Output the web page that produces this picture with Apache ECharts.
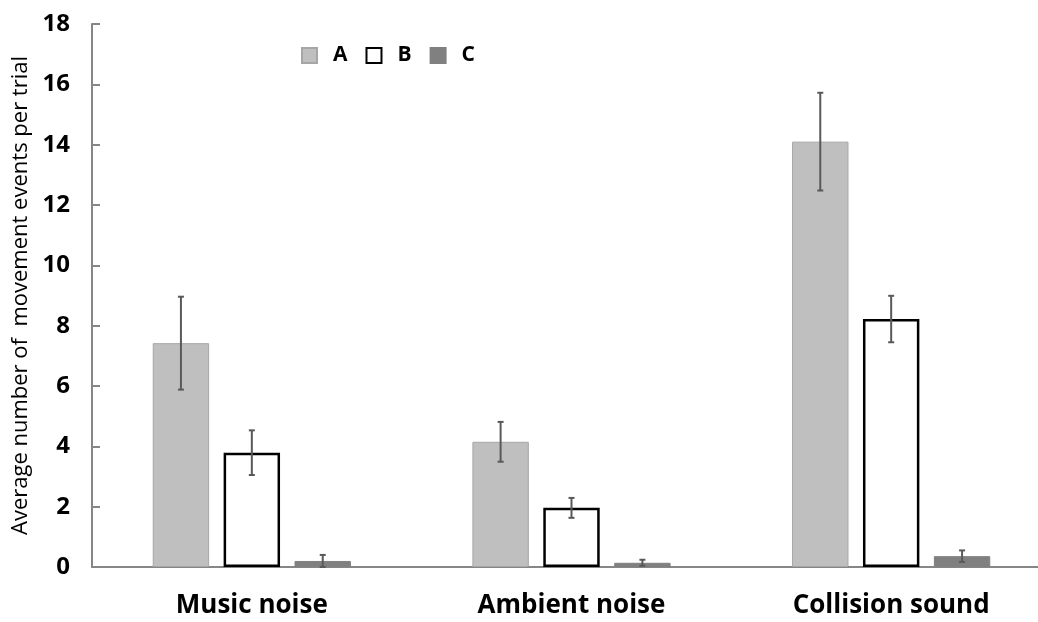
<!DOCTYPE html>
<html><head><meta charset="utf-8">
<script src="https://cdn.jsdelivr.net/npm/echarts@6/dist/echarts.min.js"></script>
<style>html,body{margin:0;padding:0;background:#fff}#c{width:1038px;height:622px}</style>
</head><body><div id="c"></div>
<script>
var categories = ['Music noise', 'Ambient noise', 'Collision sound'];
var seriesNames = ['A', 'B', 'C'];
var valuesA = [7.42, 4.15, 14.1];
var valuesB = [3.79, 1.96, 8.22];
var valuesC = [0.2, 0.14, 0.36];
var errA = [1.54, 0.66, 1.62];
var errB = [0.74, 0.33, 0.77];
var errC = [0.2, 0.1, 0.19];

var values = [valuesA, valuesB, valuesC];
var errs = [errA, errB, errC];
var CAT_GAP = 0.38, BAR_GAP = 0.257;
var fnt = '"Open Sans", Lato, sans-serif';

var chart = echarts.init(document.getElementById('c'));
var styles = [
  {color: '#bfbfbf', borderColor: '#a6a6a6', borderWidth: 1},
  {color: '#ffffff', borderColor: '#000000', borderWidth: 2.5},
  {color: '#808080', borderColor: '#808080', borderWidth: 1}
];
var series = seriesNames.map(function (n, i) {
  return {
    name: n, type: 'bar', data: values[i], itemStyle: styles[i],
    barGap: (BAR_GAP * 100) + '%', barCategoryGap: (CAT_GAP * 100) + '%'
  };
});
seriesNames.forEach(function (n, si) {
  var d = values[si].map(function (v, k) { return [k, v - errs[si][k], v + errs[si][k]]; });
  series.push({
    type: 'custom', silent: true, z: 10,
    data: d,
    renderItem: function (params, api) {
      var band = api.size([1, 0])[0];
      var w = band * (1 - CAT_GAP) / (3 + 2 * BAR_GAP);
      var off = (si - 1) * w * (1 + BAR_GAP);
      var lo = api.coord([api.value(0), api.value(1)]);
      var hi = api.coord([api.value(0), api.value(2)]);
      var x = lo[0] + off;
      var cap = 3;
      var st = {stroke: '#595959', lineWidth: 2};
      return {type: 'group', children: [
        {type: 'line', shape: {x1: x, y1: lo[1], x2: x, y2: hi[1]}, style: st},
        {type: 'line', shape: {x1: x - cap, y1: lo[1], x2: x + cap, y2: lo[1]}, style: st},
        {type: 'line', shape: {x1: x - cap, y1: hi[1], x2: x + cap, y2: hi[1]}, style: st}
      ]};
    }
  });
});

chart.setOption({
  animation: false,
  backgroundColor: '#ffffff',
  grid: {left: 92, width: 959, top: 24, bottom: 55, containLabel: false, outerBoundsMode: 'none'},
  legend: {
    data: seriesNames, top: 40, left: 296, itemWidth: 15, itemHeight: 15, itemGap: 18,
    icon: 'rect',
    textStyle: {fontFamily: fnt, fontWeight: 'bold', fontSize: 21, color: '#000', padding: [0, 0, 0, 11]}
  },
  xAxis: {
    type: 'category', data: categories,
    axisLine: {lineStyle: {color: '#868686', width: 2}},
    axisTick: {show: false},
    axisLabel: {fontFamily: fnt, fontWeight: 'bold', fontSize: 26, color: '#000', margin: 26}
  },
  yAxis: {
    type: 'value', min: 0, max: 18, interval: 2,
    name: 'Average number of  movement events per trial',
    nameLocation: 'middle', nameGap: 60,
    nameTextStyle: {fontFamily: fnt, fontSize: 22, color: '#000'},
    axisLine: {show: true, lineStyle: {color: '#868686', width: 2}},
    axisTick: {show: true, inside: true, length: 8, lineStyle: {color: '#868686', width: 2}},
    splitLine: {show: false},
    axisLabel: {fontFamily: fnt, fontWeight: 'bold', fontSize: 24, color: '#000', margin: 22}
  },
  series: series
});
</script></body></html>
